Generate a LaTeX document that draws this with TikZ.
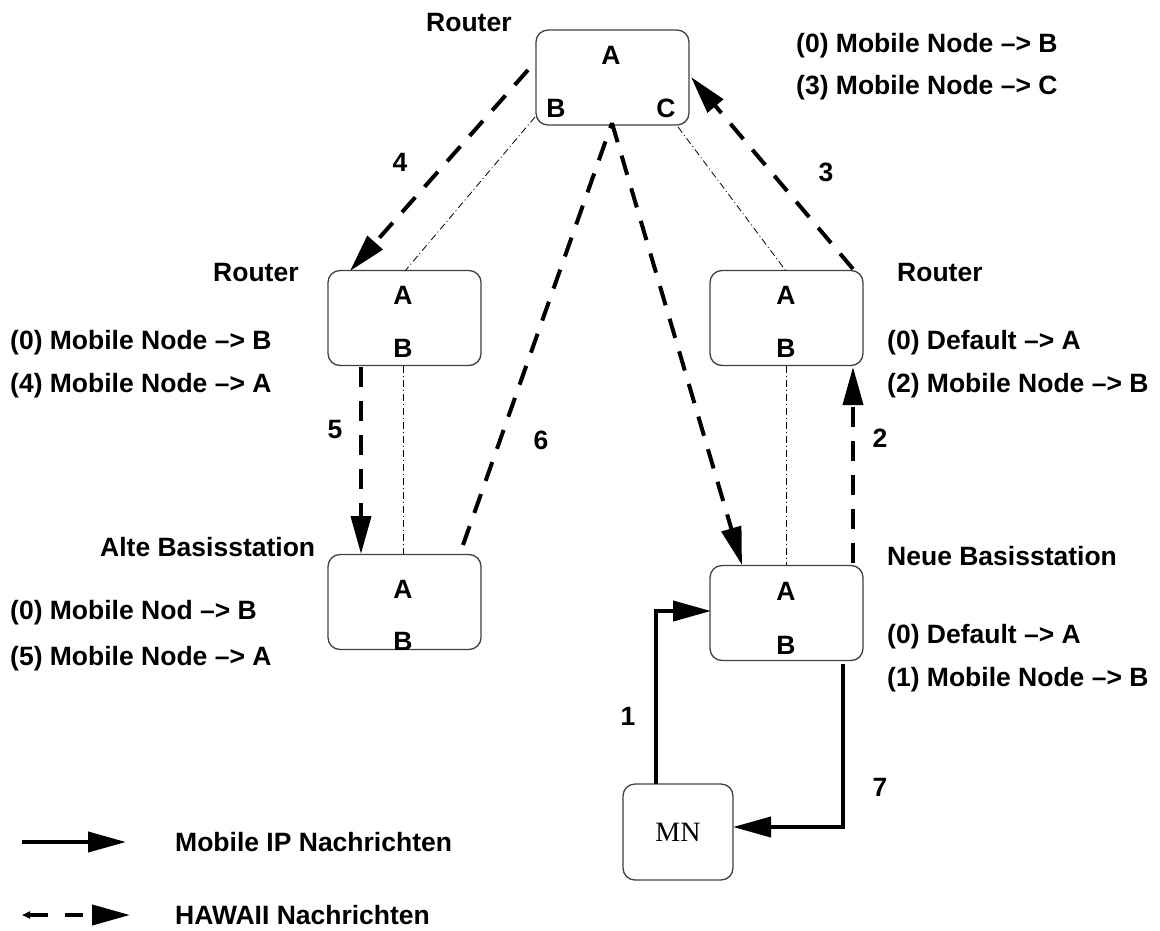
\documentclass[tikz,border=0pt]{standalone}
\usepackage{fontspec}
\setmainfont{Liberation Sans}
\newfontfamily\serifmn{Liberation Serif}
\usetikzlibrary{arrows.meta}
\begin{document}
\begin{tikzpicture}[x=1pt,y=-1pt,
  box/.style={draw=black!75, line width=1.3pt, rounded corners=12pt, minimum width=153pt, minimum height=95pt, inner sep=0pt},
  lbl/.style={font=\fontsize{26.5}{30}\selectfont\bfseries, inner sep=0pt},
  txt/.style={font=\fontsize{26.5}{30}\selectfont\bfseries, inner sep=0pt, anchor=base west},
  hawaii/.style={line width=4pt, dash pattern=on 20pt off 14pt, -{Triangle[length=38pt,width=20pt]}},
  mip/.style={line width=4pt, -{Triangle[length=38pt,width=20pt]}},
  link/.style={line width=0.8pt, dash pattern=on 7pt off 3pt on 1pt off 3pt},
]
\useasboundingbox (0,0) rectangle (1160,930);

% boxes
\node[box] (top) at (612.5,77.5) {};
\node[box] (lr) at (404.5,318) {};
\node[box] (rr) at (786.5,318) {};
\node[box] (obs) at (404.5,602) {};
\node[box] (nbs) at (786.5,613) {};
\node[draw=black!75, line width=1.3pt, rounded corners=12pt, minimum width=110pt, minimum height=96pt, inner sep=0pt] (mn) at (678,832) {};
\node[font=\serifmn\fontsize{28}{30}\selectfont, inner sep=0pt] (mnt) at (678,832) {MN};

% port labels
\node[lbl] (topA) at (611,55) {A};
\node[lbl] (topB) at (556,108) {B};
\node[lbl] (topC) at (666,108) {C};
\node[lbl] (lrA) at (403,295) {A};
\node[lbl] (lrB) at (403,348) {B};
\node[lbl] (rrA) at (786,295) {A};
\node[lbl] (rrB) at (786,348) {B};
\node[lbl] (obsA) at (403,589) {A};
\node[lbl] (obsB) at (403,641) {B};
\node[lbl] (nbsA) at (786,591) {A};
\node[lbl] (nbsB) at (786,645) {B};

% thin dash-dot links
\coordinate (l1a) at (535,117);
\coordinate (l1b) at (405,271);
\coordinate (l2a) at (678,127);
\coordinate (l2b) at (786,271);
\draw[link] (l1a) -- (l1b);
\draw[link] (l2a) -- (l2b);
\draw[link] (lr.south -| lrB) -- (obs.north -| obsA);
\draw[link] (rr.south -| rrB) -- (nbs.north -| nbsA);

% HAWAII messages
\coordinate (h4s) at (528,70);
\coordinate (h4e) at (350,271);
\draw[hawaii] (h4s) -- (h4e);
\coordinate (h3s) at (853,269);
\coordinate (h3e) at (691,77);
\draw[hawaii] (h3s) -- (h3e);
\coordinate (h2s) at (853,563);
\coordinate (h2e) at (853,367);
\draw[hawaii] (h2s) -- (h2e);
\coordinate (h5s) at (361,367);
\coordinate (h5e) at (361,554);
\draw[hawaii] (h5s) -- (h5e);
\coordinate (h6s) at (463,545);
\coordinate (h6m) at (612,123);
\coordinate (h6e) at (742,565);
\draw[line width=4pt, dash pattern=on 20pt off 14pt] (h6s) -- (h6m);
\draw[hawaii] (h6m) -- (h6e);

% Mobile IP messages
\coordinate (m1s) at (656,784);
\coordinate (m1c) at (656,611);
\coordinate (m1e) at (711,611);
\draw[mip] (m1s) -- (m1c) -- (m1e);
\coordinate (m7s) at (843,664);
\coordinate (m7c) at (843,827);
\coordinate (m7e) at (733,827);
\draw[mip] (m7s) -- (m7c) -- (m7e);

% step numbers
\node[lbl] (n4) at (400,162) {4};
\node[lbl] (n3) at (826,172) {3};
\node[lbl] (n5) at (335,430) {5};
\node[lbl] (n6) at (541,440) {6};
\node[lbl] (n2) at (880,438) {2};
\node[lbl] (n1) at (628,716) {1};
\node[lbl] (n7) at (880,787) {7};

% texts
\node[txt] (t1) at (426,31) {Router};
\node[txt] (t2) at (796,52) {(0) Mobile Node –> B};
\node[txt] (t3) at (796,94) {(3) Mobile Node –> C};
\node[txt] (t4) at (213,281) {Router};
\node[txt] (t5) at (10,349) {(0) Mobile Node –> B};
\node[txt] (t6) at (10,392) {(4) Mobile Node –> A};
\node[txt] (t7) at (897,281) {Router};
\node[txt] (t8) at (887,349) {(0) Default –> A};
\node[txt] (t9) at (887,392) {(2) Mobile Node –> B};
\node[txt] (t10) at (100,556) {Alte Basisstation};
\node[txt] (t11) at (10,619) {(0) Mobile Nod –> B};
\node[txt] (t12) at (10,665) {(5) Mobile Node –> A};
\node[txt] (t13) at (887,565) {Neue Basisstation};
\node[txt] (t14) at (887,643) {(0) Default –> A};
\node[txt] (t15) at (887,686) {(1) Mobile Node –> B};

% legend
\coordinate (ls1) at (22,842);
\coordinate (le1) at (126,842);
\draw[mip] (ls1) -- (le1);
\coordinate (ls2) at (22,915);
\coordinate (le2) at (130,915);
\draw[line width=4pt, dash pattern=on 18pt off 17pt, {Triangle[length=8pt,width=7pt]}-{Triangle[length=38pt,width=20pt]}] (ls2) -- (le2);
\node[txt] (lg1) at (175,851) {Mobile IP Nachrichten};
\node[txt] (lg2) at (175,924) {HAWAII Nachrichten};
\end{tikzpicture}
\end{document}
